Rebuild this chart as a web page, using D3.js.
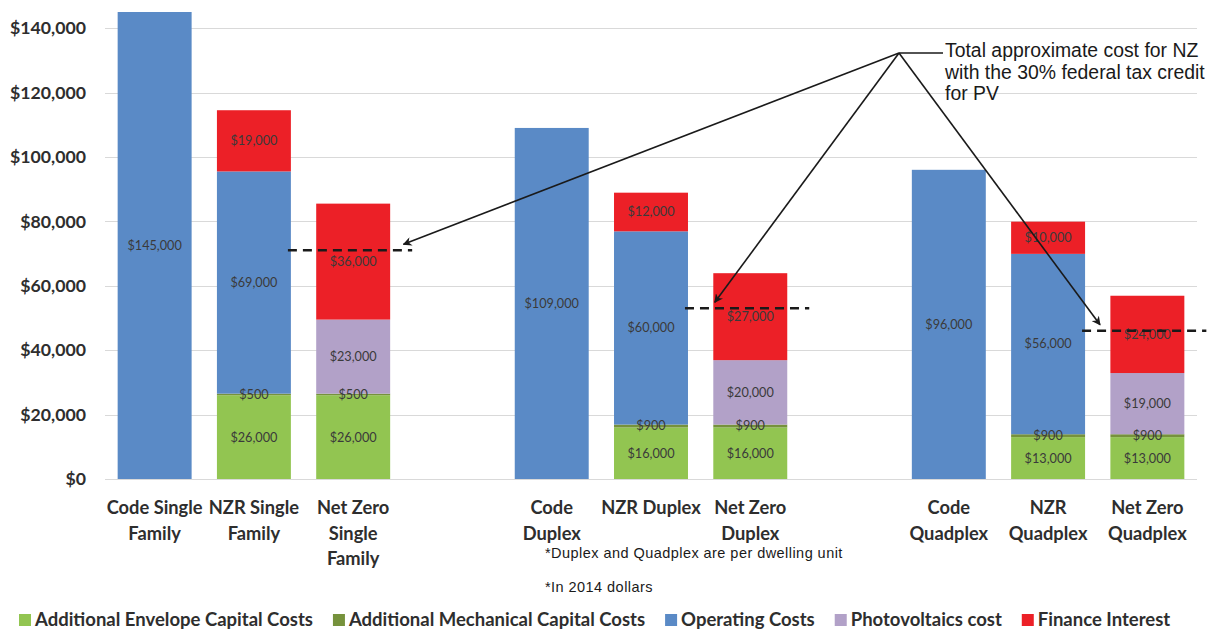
<!DOCTYPE html>
<html>
<head>
<meta charset="utf-8">
<script src="https://cdn.jsdelivr.net/npm/d3@7"></script>
<style>
  html, body { margin: 0; padding: 0; background: #ffffff; }
  svg { display: block; }
</style>
</head>
<body>
<svg id="chart" width="1222" height="632"></svg>
<script>
// Building types (two blank slots separate the three housing groups)
const categories = [
  "Code Single Family", "NZR Single Family", "Net Zero Single Family", "gap1",
  "Code Duplex", "NZR Duplex", "Net Zero Duplex", "gap2",
  "Code Quadplex", "NZR Quadplex", "Net Zero Quadplex"
];
const categoryLabels = [
  ["Code Single", "Family"], ["NZR Single", "Family"], ["Net Zero", "Single", "Family"], [],
  ["Code", "Duplex"], ["NZR Duplex"], ["Net Zero", "Duplex"], [],
  ["Code", "Quadplex"], ["NZR", "Quadplex"], ["Net Zero", "Quadplex"]
];

// Cost components per building type (USD, 2014 dollars)
const seriesNames = [
  "Additional Envelope Capital Costs",
  "Additional Mechanical Capital Costs",
  "Operating Costs",
  "Photovoltaics cost",
  "Finance Interest"
];
const envelopeCosts   = [0, 26000, 26000, 0, 0, 16000, 16000, 0, 0, 13000, 13000];
const mechanicalCosts = [0,   500,   500, 0, 0,   900,   900, 0, 0,   900,   900];
const operatingCosts  = [145000, 69000, 0, 0, 109000, 60000, 0, 0, 96000, 56000, 0];
const pvCosts         = [0, 0, 23000, 0, 0, 0, 20000, 0, 0, 0, 19000];
const financeInterest = [0, 19000, 36000, 0, 0, 12000, 27000, 0, 0, 10000, 24000];
const seriesColors = ["#92c551", "#76923c", "#5a8ac6", "#b2a1c8", "#ec2027"];

// Net zero totals after the 30% federal PV tax credit
const creditGroups = [
  { nzr: "NZR Single Family", nz: "Net Zero Single Family" },
  { nzr: "NZR Duplex",        nz: "Net Zero Duplex" },
  { nzr: "NZR Quadplex",      nz: "Net Zero Quadplex" }
];
const creditTotals = [71000, 53000, 46000];
// where each arrow lands, as a fraction of the net zero bar width
const arrowTipFraction = [1.18, 0.02, -0.14];

const yTicks = [0, 20000, 40000, 60000, 80000, 100000, 120000, 140000];
const annotationLines = [
  "Total approximate cost for NZ",
  "with the 30% federal tax credit",
  "for PV"
];
const notes = ["*Duplex and Quadplex are per dwelling unit", "*In 2014 dollars"];

// ---- layout ----
const svg = d3.select("#chart");
const plotLeft = 105, plotRight = 1197, plotTop = 12, plotBottom = 479;
const labelFont = "Lato, 'Open Sans', sans-serif";
const noteFont = "'Liberation Sans', Arial, sans-serif";

const x = d3.scaleBand()
  .domain(categories)
  .range([plotLeft, plotRight])
  .paddingInner(0.255)
  .paddingOuter(0.1275);

const y = d3.scaleLinear()
  .domain([0, 145000])
  .range([plotBottom, plotTop]);

// table for the stack layout
const table = categories.map((c, i) => ({
  category: c,
  [seriesNames[0]]: envelopeCosts[i],
  [seriesNames[1]]: mechanicalCosts[i],
  [seriesNames[2]]: operatingCosts[i],
  [seriesNames[3]]: pvCosts[i],
  [seriesNames[4]]: financeInterest[i]
}));
const stacked = d3.stack().keys(seriesNames)(table);
const color = d3.scaleOrdinal().domain(seriesNames).range(seriesColors);

// gridlines
svg.append("g")
  .selectAll("line")
  .data(yTicks)
  .join("line")
  .attr("x1", plotLeft)
  .attr("x2", plotRight)
  .attr("y1", d => Math.round(y(d)) + 0.5)
  .attr("y2", d => Math.round(y(d)) + 0.5)
  .attr("stroke", "#d9d9d9")
  .attr("stroke-width", 1);

// y axis labels
const yAxis = d3.axisLeft(y)
  .tickValues(yTicks)
  .tickSize(0)
  .tickPadding(0)
  .tickFormat(d => "$" + d3.format(",")(d));
const yAxisG = svg.append("g")
  .attr("transform", "translate(86,0)")
  .call(yAxis);
yAxisG.select(".domain").remove();
yAxisG.selectAll("text")
  .attr("font-family", labelFont)
  .attr("font-weight", "bold")
  .attr("font-size", "17.7px")
  .attr("fill", "#2e2e2e");

// stacked bars
const layers = svg.append("g")
  .selectAll("g")
  .data(stacked)
  .join("g")
  .attr("fill", d => color(d.key));

layers.selectAll("rect")
  .data(d => d.filter(s => s[1] - s[0] > 0))
  .join("rect")
  .attr("x", d => x(d.data.category))
  .attr("width", x.bandwidth())
  .attr("y", d => y(d[1]))
  .attr("height", d => y(d[0]) - y(d[1]));

// value labels centred in each segment
const valueLabels = [];
stacked.forEach(layer => {
  layer.forEach(s => {
    const v = s[1] - s[0];
    if (v > 0) valueLabels.push({ category: s.data.category, mid: (s[0] + s[1]) / 2, value: v });
  });
});
svg.append("g")
  .selectAll("text")
  .data(valueLabels)
  .join("text")
  .attr("x", d => x(d.category) + x.bandwidth() / 2)
  .attr("y", d => y(d.mid))
  .attr("dy", "0.35em")
  .attr("text-anchor", "middle")
  .attr("font-family", labelFont)
  .attr("font-size", "12.7px")
  .attr("fill", "#3a3a3a")
  .text(d => "$" + d3.format(",")(d.value));

// category labels
const catG = svg.append("g")
  .selectAll("text")
  .data(categories.map((c, i) => ({ c, lines: categoryLabels[i] })))
  .join("text")
  .attr("text-anchor", "middle")
  .attr("font-family", labelFont)
  .attr("font-weight", "bold")
  .attr("font-size", "18.3px")
  .attr("fill", "#2e2e2e");
catG.selectAll("tspan")
  .data(d => d.lines.map(l => ({ l, c: d.c })))
  .join("tspan")
  .attr("x", d => x(d.c) + x.bandwidth() / 2)
  .attr("y", (d, i) => 514 + i * 25.5)
  .text(d => d.l);

// dashed tax-credit totals
svg.append("g")
  .selectAll("line")
  .data(creditGroups.map((g, i) => ({ ...g, v: creditTotals[i] })))
  .join("line")
  .attr("x1", d => x(d.nzr) + x.bandwidth() - 3)
  .attr("x2", d => x(d.nz) + x.bandwidth() + 22)
  .attr("y1", d => y(d.v))
  .attr("y2", d => y(d.v))
  .attr("stroke", "#1a1a1a")
  .attr("stroke-width", 2.5)
  .attr("stroke-dasharray", "9,6");

// annotation callout
const defs = svg.append("defs");
defs.append("marker")
  .attr("id", "arrowHead")
  .attr("viewBox", "0 0 10 10")
  .attr("refX", 9)
  .attr("refY", 5)
  .attr("markerWidth", 9)
  .attr("markerHeight", 9)
  .attr("markerUnits", "userSpaceOnUse")
  .attr("orient", "auto")
  .append("path")
  .attr("d", "M0,0 L10,5 L0,10 L3,5 Z")
  .attr("fill", "#1a1a1a");

const apex = { x: 899, y: 53 };
svg.append("line")
  .attr("x1", apex.x).attr("y1", apex.y)
  .attr("x2", 943).attr("y2", apex.y)
  .attr("stroke", "#1a1a1a").attr("stroke-width", 1.6);

svg.append("g")
  .selectAll("line")
  .data(creditGroups.map((g, i) => ({ ...g, v: creditTotals[i], f: arrowTipFraction[i] })))
  .join("line")
  .attr("x1", apex.x)
  .attr("y1", apex.y)
  .attr("x2", d => x(d.nz) + d.f * x.bandwidth())
  .attr("y2", d => y(d.v) - 6)
  .attr("stroke", "#1a1a1a")
  .attr("stroke-width", 1.6)
  .attr("marker-end", "url(#arrowHead)");

svg.append("g")
  .selectAll("text")
  .data(annotationLines)
  .join("text")
  .attr("x", 945)
  .attr("y", (d, i) => 57 + i * 21.5)
  .attr("font-family", noteFont)
  .attr("font-size", "19.4px")
  .attr("fill", "#1a1a1a")
  .text(d => d);

// footnotes
svg.append("g")
  .selectAll("text")
  .data(notes)
  .join("text")
  .attr("x", 545)
  .attr("y", (d, i) => 558 + i * 34)
  .attr("font-family", noteFont)
  .attr("font-size", "14.5px")
  .attr("letter-spacing", "0.45px")
  .attr("fill", "#1a1a1a")
  .text(d => d);

// legend
const legend = svg.append("g").attr("transform", "translate(0,620)");
let lx = 19;
seriesNames.forEach((name, i) => {
  legend.append("rect")
    .attr("x", lx).attr("y", -6)
    .attr("width", 12).attr("height", 12)
    .attr("fill", seriesColors[i]);
  const t = legend.append("text")
    .attr("x", lx + 16)
    .attr("y", 0)
    .attr("dy", "0.35em")
    .attr("font-family", labelFont)
    .attr("font-weight", "bold")
    .attr("font-size", "18.5px")
    .attr("fill", "#2e2e2e")
    .text(name);
  lx += 16 + t.node().getComputedTextLength() + 20;
});
</script>
</body>
</html>
